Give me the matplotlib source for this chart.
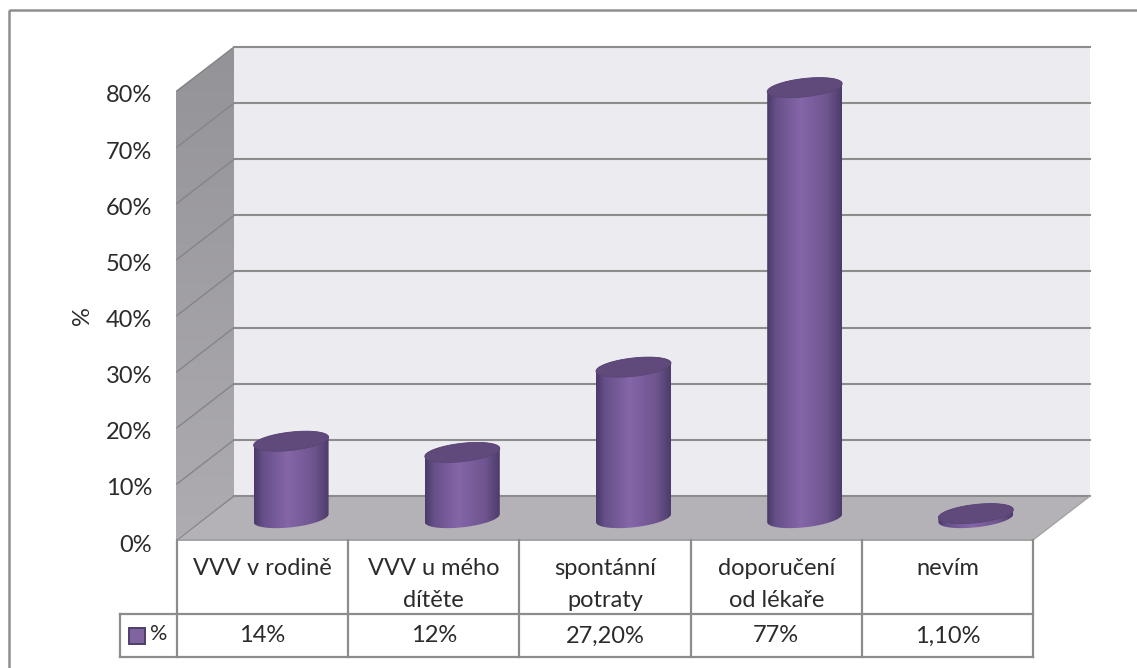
import numpy as np
import matplotlib
matplotlib.use("Agg")
import matplotlib.pyplot as plt
from matplotlib.patches import Polygon, Rectangle
from matplotlib.colors import LinearSegmentedColormap
from matplotlib.transforms import ScaledTranslation

categories = ["VVV v rodině", "VVV u mého\ndítěte", "spontánní\npotraty", "doporučení\nod lékaře", "nevím"]
values = [14, 12, 27.2, 77, 1.1]
value_labels = ["14%", "12%", "27,20%", "77%", "1,10%"]
y_ticks = [0, 10, 20, 30, 40, 50, 60, 70, 80]
y_tick_labels = ["0%", "10%", "20%", "30%", "40%", "50%", "60%", "70%", "80%"]
series_name = "%"

W, H = 1137, 668
plt.rcParams["font.family"] = ["Lato", "DejaVu Sans"]
TXT = "#2b2b2b"
LINE = "#8c8c8c"
FS = 17
fig = plt.figure(figsize=(W / 100, H / 100), dpi=100, facecolor="white")


def rect_px(x0, y0, x1, y1):
    return [x0 / W, 1 - y1 / H, (x1 - x0) / W, (y1 - y0) / H]


# outer frame (right and bottom edges fall outside the picture)
frame = fig.add_axes([0, 0, 1, 1], xlim=(0, W), ylim=(H, 0))
frame.axis("off")
frame.add_patch(Rectangle((8.5, 10), 1300, 800, fc="none", ec="#8f8f8f", lw=1.8))

# main axes = front plane of the 3D box
ax = fig.add_axes(rect_px(177, 91, 1033, 540), facecolor="none")
ax.set_xlim(-0.5, 4.5)
ax.set_ylim(0, 80)
for s in ax.spines.values():
    s.set_visible(False)
ax.set_xticks([])
ax.set_yticks(y_ticks, y_tick_labels, fontsize=FS, color=TXT)
ax.tick_params(axis="y", length=0, pad=18)
shift = ScaledTranslation(0, -3 / 100, fig.dpi_scale_trans)
for lab in ax.get_yticklabels():
    lab.set_transform(lab.get_transform() + shift)
ax.set_ylabel("%", fontsize=FS, color=TXT, labelpad=9)

dx = 57 / 171.2   # depth offset in category units
dy = 44 / 5.6125  # depth offset in % units
x0, x1 = -0.5, 4.5
wall_c = "#ecebf0"
floor_c = "#b4b2b6"

ax.add_patch(Polygon([(x0 + dx, dy), (x1 + dx, dy), (x1 + dx, 80 + dy), (x0 + dx, 80 + dy)],
                     fc=wall_c, ec="none", clip_on=False, zorder=1))
ax.add_patch(Polygon([(x0, 0), (x1, 0), (x1 + dx, dy), (x0 + dx, dy)],
                     fc=floor_c, ec="none", clip_on=False, zorder=1))
side = Polygon([(x0 - 0.008, 0), (x0 + dx, dy), (x0 + dx, 80 + dy), (x0 - 0.008, 80)],
               fc="none", ec="none", clip_on=False, zorder=1)
ax.add_patch(side)
grad = LinearSegmentedColormap.from_list("w", ["#949397", "#aeacb0"])
im = ax.imshow(np.linspace(0, 1, 64)[:, None], extent=(x0 - 0.008, x0 + dx, 0, 80 + dy), cmap=grad,
               aspect="auto", zorder=1.1, interpolation="bilinear", origin="upper")
im.set_clip_box(fig.bbox)
im.set_clip_path(side)

for t in y_ticks:
    ax.plot([x0, x0 + dx], [t, t + dy], color="#858488", lw=1.0, clip_on=False, zorder=2)
    ax.plot([x0 + dx, x1 + dx], [t + dy, t + dy], color=LINE, lw=1.5, clip_on=False, zorder=2)
ax.plot([x0, x1], [0, 0], color="#a3a3a3", lw=1.4, clip_on=False, zorder=2)
ax.plot([x1, x1 + dx], [0, dy], color="#a3a3a3", lw=1.0, clip_on=False, zorder=2)

# cylinders
a = 37.5 / 171.2
b = 9.2 / 5.6125
k = 4.0 / 5.6125
base = 3.9
lift = 3.6
body = LinearSegmentedColormap.from_list(
    "b", [(0, "#4a3a68"), (0.12, "#67508a"), (0.45, "#8566a8"), (0.8, "#6f5590"), (1, "#4d3c6b")])
cap_c = "#604a7b"


def ell(cx, cy, t):
    return np.column_stack([cx + a * np.cos(t), cy + b * np.sin(t) + k * np.cos(t)])


for i, v in enumerate(values):
    cx = i + dx / 2
    top = v + lift
    low = ell(cx, base, np.linspace(0, -np.pi, 60))
    upp = ell(cx, top, np.linspace(np.pi, 0, 60))
    clip = Polygon(np.vstack([low, upp]), fc="none", ec="none", clip_on=False)
    ax.add_patch(clip)
    y_lo = base - 3
    y_hi = top + 3
    im = ax.imshow(np.linspace(0, 1, 128)[None, :], extent=(cx - a, cx + a, y_lo, y_hi), cmap=body,
                   aspect="auto", zorder=3, interpolation="bilinear")
    im.set_clip_box(fig.bbox)
    im.set_clip_path(clip)
    ax.add_patch(Polygon(ell(cx, top, np.linspace(0, 2 * np.pi, 90)), fc=cap_c, ec="#5a4574", lw=0.6,
                         zorder=4, clip_on=False))

ax.set_xlim(x0, x1)
ax.set_ylim(0, 80)

# data table
ROW1, ROW2 = 614, 657
tb = fig.add_axes(rect_px(177, 540, 1033, ROW2), facecolor="none")
tb.set_xlim(-0.5, 4.5)
tb.set_ylim(ROW2, 540)
tb.axis("off")
n = len(categories)
for j in range(n + 1):
    tb.plot([j - 0.5, j - 0.5], [540, ROW2], color=LINE, lw=1.6, clip_on=False, solid_capstyle="projecting")
leg_x = -0.5 - 57 / 171.2
tb.plot([leg_x, 4.5], [ROW1, ROW1], color=LINE, lw=1.6, clip_on=False)
tb.plot([leg_x, 4.5], [ROW2, ROW2], color=LINE, lw=1.6, clip_on=False)
tb.plot([leg_x, leg_x], [ROW1, ROW2], color=LINE, lw=1.6, clip_on=False)
for j, (c, vl) in enumerate(zip(categories, value_labels)):
    tb.text(j, 558, c, ha="center", va="top", fontsize=FS, color=TXT, linespacing=1.62)
    tb.text(j, (ROW1 + ROW2) / 2 + 0.5, vl, ha="center", va="center", fontsize=FS, color=TXT)
tb.add_patch(Rectangle((leg_x + 8.5 / 171.2, 627.5), 16 / 171.2, 16, fc="#8064a2", ec="#4f3d68", lw=1.4, clip_on=False))
tb.text(leg_x + 30 / 171.2, (ROW1 + ROW2) / 2 - 2, series_name, ha="left", va="center", fontsize=15.5, color=TXT)

fig.savefig("out.png", dpi=100, facecolor="white")
